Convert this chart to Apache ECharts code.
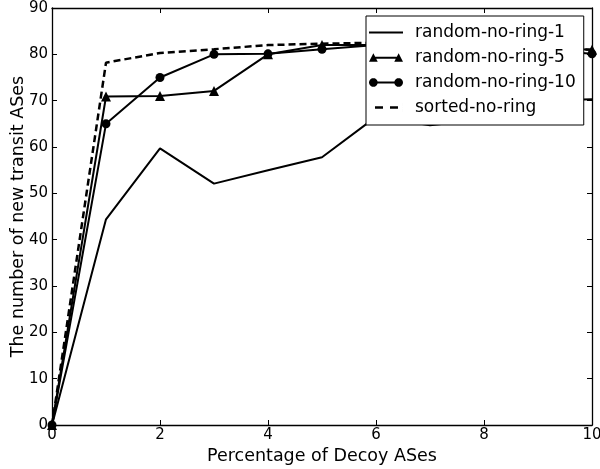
<!DOCTYPE html>
<html>
<head>
<meta charset="utf-8">
<script src="https://cdn.jsdelivr.net/npm/echarts@6/dist/echarts.min.js"></script>
<style>
    html, body { margin: 0; padding: 0; background: #fff; }
    #chart { width: 600px; height: 469px; }
</style>
</head>
<body>
<div id="chart"></div>
<script>
    // 横轴: 诱饵AS百分比
    var xValues = [0, 1, 2, 3, 4, 5, 6, 7, 8, 9, 10]
    var ring1 = [0, 44.4, 59.7, 52.1, 55, 57.8, 66.5, 64.7, 66, 70, 70.3]
    var ring5 = [0, 70.9, 71, 72.1, 80, 82, 82, 82, 82, 81.5, 81]
    var ring10 = [0, 65, 75, 80, 80.1, 81.1, 82, 82, 82, 81, 80.1]
    var sortedNoRing = [0, 78.2, 80.3, 81.1, 82, 82.3, 82.5, 82.3, 82, 81.5, 81]
    var xTicks = [0, 2, 4, 6, 8, 10]
    var yTicks = [0, 10, 20, 30, 40, 50, 60, 70, 80, 90]

    function pairs (ys) {
        return xValues.map(function (x, i) { return [x, ys[i]] })
    }

    // 图例图标用的小圆 (多边形近似)
    function circlePath (cx, cy, r) {
        let s = ''
        for (let i = 0; i < 20; i++) {
            let a = i / 20 * Math.PI * 2
            s += (i === 0 ? 'M' : 'L') + (cx + r * Math.cos(a)).toFixed(2) + ',' + (cy + r * Math.sin(a)).toFixed(2) + ' '
        }
        return s + 'Z '
    }

    // 图例图标: 线段两端带标记, 类似 matplotlib
    var iconLine = 'path://M0,4 L34,4 L34,6 L0,6 Z M0,0 L0.01,0 L0.01,10 L0,10 Z'
    var iconTri = 'path://M4,4 L30,4 L30,6 L4,6 Z M4,0.5 L8.5,9 L-0.5,9 Z M30,0.5 L34.5,9 L25.5,9 Z'
    var iconCircle = 'path://M4,4 L30,4 L30,6 L4,6 Z ' + circlePath(4, 5, 4.5) + circlePath(30, 5, 4.5)
    var iconDash = 'path://M6,3.8 L14,3.8 L14,6.2 L6,6.2 Z M21,3.8 L29,3.8 L29,6.2 L21,6.2 Z M0,0 L0.01,0 L0.01,10 L0,10 Z M34,0 L34.01,0 L34.01,10 L34,10 Z'

    var font = 'DejaVu Sans'
    var tickStyle = {show: true, inside: true, length: 5, lineStyle: {color: '#000', width: 1}}
    var lineAxis = {show: true, onZero: false, lineStyle: {color: '#000', width: 1.3}}

    var myChart = echarts.init(document.getElementById('chart'))
    var option = {
        animation: false,
        backgroundColor: '#fff',
        textStyle: {fontFamily: font, color: '#000'},
        grid: {left: 52, right: 8, top: 8, bottom: 44, containLabel: false, outerBoundsMode: 'none'},
        legend: {
            orient: 'vertical',
            left: 366,
            top: 16,
            padding: [8, 8, 9, 3],
            itemGap: 8,
            itemWidth: 34,
            itemHeight: 10,
            symbolKeepAspect: true,
            borderColor: '#000',
            borderWidth: 1,
            borderRadius: 0,
            backgroundColor: '#fff',
            textStyle: {fontFamily: font, fontSize: 17, color: '#000', padding: [0, 0, 0, 7]},
            data: [
                {name: 'random-no-ring-1', icon: iconLine},
                {name: 'random-no-ring-5', icon: iconTri},
                {name: 'random-no-ring-10', icon: iconCircle},
                {name: 'sorted-no-ring', icon: iconDash}
            ]
        },
        xAxis: [
            {
                type: 'value', min: 0, max: 10, interval: 2,
                name: 'Percentage of Decoy ASes',
                nameLocation: 'middle',
                nameGap: 22,
                nameMoveOverlap: false,
                nameTextStyle: {fontFamily: font, fontSize: 17.5, color: '#000'},
                axisLine: lineAxis,
                axisTick: tickStyle,
                splitLine: {show: false},
                axisLabel: {fontFamily: font, fontSize: 15, color: '#000', margin: 3,
                    formatter: function (v) { return xTicks.indexOf(v) >= 0 ? String(v) : '' }}
            },
            {
                type: 'value', min: 0, max: 10, interval: 2, position: 'top',
                axisLine: lineAxis, axisTick: tickStyle,
                splitLine: {show: false}, axisLabel: {show: false}
            }
        ],
        yAxis: [
            {
                type: 'value', min: 0, max: 90, interval: 10,
                name: 'The number of new transit ASes',
                nameLocation: 'middle',
                nameGap: 25,
                nameMoveOverlap: false,
                nameTextStyle: {fontFamily: font, fontSize: 17.5, color: '#000'},
                axisLine: lineAxis,
                axisTick: tickStyle,
                splitLine: {show: false},
                axisLabel: {fontFamily: font, fontSize: 15, color: '#000', margin: 4,
                    formatter: function (v) { return yTicks.indexOf(v) >= 0 ? String(v) : '' }}
            },
            {
                type: 'value', min: 0, max: 90, interval: 10, position: 'right',
                axisLine: lineAxis, axisTick: tickStyle,
                splitLine: {show: false}, axisLabel: {show: false}
            }
        ],
        series: [
            {
                name: 'random-no-ring-1',
                type: 'line',
                symbol: 'none',
                color: '#000',
                lineStyle: {color: '#000', width: 2},
                data: pairs(ring1)
            },
            {
                name: 'random-no-ring-5',
                type: 'line',
                symbol: 'triangle',
                symbolSize: 10,
                color: '#000',
                itemStyle: {color: '#000'},
                lineStyle: {color: '#000', width: 2},
                data: pairs(ring5)
            },
            {
                name: 'random-no-ring-10',
                type: 'line',
                symbol: 'circle',
                symbolSize: 9,
                color: '#000',
                itemStyle: {color: '#000'},
                lineStyle: {color: '#000', width: 2},
                data: pairs(ring10)
            },
            {
                name: 'sorted-no-ring',
                type: 'line',
                symbol: 'none',
                color: '#000',
                lineStyle: {color: '#000', width: 2.5, type: [7, 4]},
                data: pairs(sortedNoRing)
            }
        ]
    }
    myChart.setOption(option)
</script>
</body>
</html>
